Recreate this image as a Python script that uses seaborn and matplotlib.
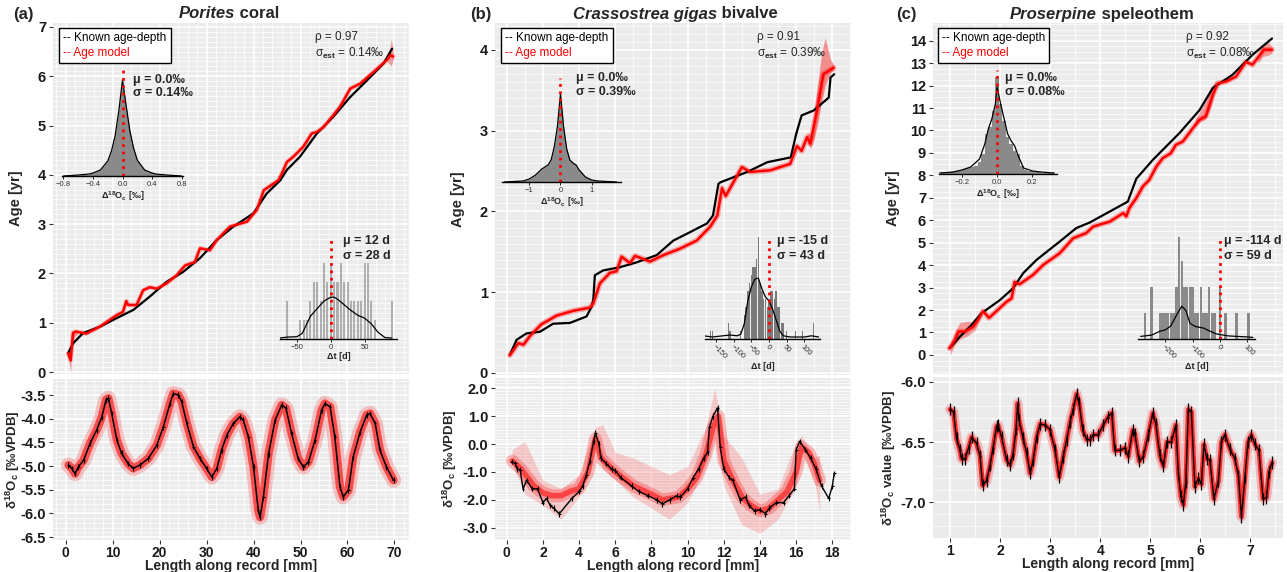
import matplotlib.pyplot as plt
import seaborn as sns
from matplotlib.lines import Line2D
from matplotlib.ticker import MultipleLocator, FormatStrFormatter

sns.set_theme(style="darkgrid")
plt.rcParams['font.family'] = ['Liberation Sans', 'DejaVu Sans']
plt.rcParams['font.weight'] = 'bold'
plt.rcParams['axes.labelweight'] = 'bold'
plt.rcParams['mathtext.fontset'] = 'custom'
plt.rcParams['mathtext.rm'] = 'Liberation Sans'
plt.rcParams['mathtext.it'] = 'Liberation Sans:italic'
plt.rcParams['mathtext.bf'] = 'Liberation Sans:bold'

# ---------------- (a) Porites coral ----------------
a_len = [0.6, 1.3, 2.0, 2.7, 3.8, 5.2, 6.6, 7.7, 8.6, 9.1, 9.8, 10.9, 11.9, 13.3, 14.4, 15.8, 17.6, 19.4, 20.8,
         22.2, 22.9, 24.0, 24.7, 25.8, 27.2, 28.6, 30.0, 31.1, 32.2, 33.2, 34.3, 35.7, 37.1, 37.8, 38.9, 40.0,
         41.0, 41.4, 42.1, 43.2, 44.6, 46.0, 46.9, 48.1, 49.5, 50.6, 51.7, 53.1, 54.5, 55.2, 56.3, 57.3, 58.4,
         59.1, 60.2, 61.2, 62.7, 64.1, 64.8, 65.9, 66.9, 68.3, 69.8]
a_d18o = [-4.98, -5.05, -5.16, -5.02, -4.88, -4.52, -4.24, -3.96, -3.60, -3.57, -3.89, -4.45, -4.73, -4.95,
          -5.05, -4.98, -4.84, -4.56, -4.17, -3.68, -3.47, -3.50, -3.64, -4.10, -4.59, -4.84, -5.05, -5.23,
          -5.05, -4.66, -4.35, -4.10, -3.96, -4.03, -4.38, -5.02, -5.93, -6.08, -5.65, -4.74, -4.03, -3.71,
          -3.78, -4.31, -4.84, -5.02, -4.91, -4.45, -3.82, -3.68, -3.75, -4.38, -5.44, -5.65, -5.51, -4.81,
          -4.28, -3.92, -3.89, -4.10, -4.66, -5.02, -5.30]
a_depth = [0.5, 1.56, 3.7, 7.3, 10.8, 14.4, 17.9, 21.5, 25.0, 28.6, 32.2, 35.7, 40.0, 42.8, 45.7, 47.1, 49.9,
           53.5, 57.0, 60.6, 64.2, 67.7, 69.5]
a_age = [0.38, 0.58, 0.79, 0.92, 1.09, 1.26, 1.53, 1.83, 2.03, 2.31, 2.68, 2.95, 3.22, 3.62, 3.89, 4.10, 4.37,
         4.84, 5.18, 5.58, 5.92, 6.26, 6.56]
a_model_x = [0.5, 1.07, 1.56, 2.13, 4.4, 7.25, 10.8, 12.2, 12.9, 13.3, 15.1, 16.5, 17.9, 19.4, 21.5, 23.6, 25.4,
             27.5, 28.6, 30.7, 32.2, 35.0, 38.6, 40.7, 42.2, 45.3, 46.0, 47.1, 48.5, 50.6, 52.4, 53.5, 54.9,
             57.0, 58.4, 60.6, 62.7, 65.6, 68.4, 69.1, 69.7]
a_model_age = [0.38, 0.24, 0.79, 0.82, 0.78, 0.92, 1.15, 1.22, 1.44, 1.36, 1.36, 1.66, 1.72, 1.69, 1.80, 1.96,
               2.16, 2.23, 2.51, 2.47, 2.68, 2.95, 3.05, 3.29, 3.69, 3.89, 4.02, 4.26, 4.37, 4.57, 4.84, 4.87,
               4.97, 5.21, 5.38, 5.75, 5.85, 6.09, 6.33, 6.43, 6.40]
a_band1_x = [0.5, 0.8, 1.07, 1.3, 1.8, 2.5]
a_band1_lo = [0.30, 0.15, 0.0, 0.45, 0.70, 0.76]
a_band1_hi = [0.42, 0.45, 0.45, 0.84, 0.86, 0.84]
a_band2_x = [68.6, 69.0, 69.3, 69.6, 69.8]
a_band2_lo = [6.28, 6.25, 6.20, 6.30, 6.35]
a_band2_hi = [6.40, 6.55, 6.75, 6.60, 6.48]
a_res_x = [-0.8, -0.6, -0.45, -0.4, -0.3, -0.2, -0.15, -0.1, -0.05, 0.0, 0.05, 0.1, 0.15, 0.2, 0.3, 0.4, 0.45,
           0.6, 0.8]
a_res_dens = [0, 1, 2, 3, 6, 15, 25, 40, 65, 96, 70, 45, 28, 16, 6, 3, 2, 1, 0]
a_dt_bins = [-65, -45, -40, -35, -30, -25, -20, -15, -10, -5, 0, 5, 10, 15, 20, 25, 30, 35, 40, 45, 50, 55, 60,
             65, 90]
a_dt_counts = [2, 1, 1, 1, 2, 3, 3, 2, 4, 3, 4, 3, 3, 4, 3, 3, 2, 2, 2, 2, 4, 4, 2, 1, 2]
a_dt_kx = [-75, -65, -50, -42, -38, -30, -20, -10, 0, 5, 10, 20, 30, 40, 50, 60, 70, 80, 90]
a_dt_kd = [0.05, 0.1, 0.12, 0.3, 0.6, 1.2, 1.6, 2.0, 2.2, 2.2, 2.1, 1.8, 1.5, 1.25, 1.1, 0.8, 0.35, 0.08, 0.05]

# ---------------- (b) Crassostrea gigas bivalve ----------------
b_len = [0.28, 0.46, 0.59, 0.74, 0.9, 1.1, 1.4, 1.7, 2.0, 2.2, 2.4, 2.6, 2.9, 3.6, 4.0, 4.2, 4.4, 4.6, 4.8, 4.9,
         5.1, 5.2, 5.5, 5.8, 6.0, 6.3, 6.9, 7.3, 7.8, 8.3, 8.6, 9.0, 9.4, 9.6, 10.0, 10.3, 10.6, 10.9, 11.1,
         11.2, 11.4, 11.65, 11.8, 12.0, 12.3, 12.5, 12.9, 13.2, 13.4, 13.7, 14.0, 14.3, 14.5, 14.9, 15.3, 15.6,
         15.9, 16.0, 16.2, 16.5, 16.8, 17.1, 17.4, 17.8, 18.0, 18.1]
b_d18o = [-0.63, -0.69, -0.90, -0.93, -1.6, -1.3, -1.6, -1.6, -2.1, -1.95, -2.2, -2.3, -2.5, -1.95, -1.7, -1.5,
          -1.1, -0.6, 0.1, 0.4, 0.0, -0.5, -0.7, -0.9, -0.95, -1.2, -1.5, -1.7, -1.85, -2.0, -2.15, -2.0, -1.85,
          -1.9, -1.6, -1.2, -0.9, -0.5, -0.3, 0.6, 1.0, 1.3, -0.1, -0.9, -1.2, -1.3, -2.0, -1.9, -2.2, -2.4,
          -2.35, -2.5, -2.3, -2.1, -2.1, -1.85, -1.6, -0.2, 0.1, -0.2, -0.5, -0.9, -1.5, -1.95, -1.5, -1.05]
b_mod_x = [0.3, 0.8, 1.5, 2.0, 2.5, 3.0, 3.5, 4.0, 4.5, 4.9, 5.2, 6.0, 7.0, 8.0, 8.6, 9.5, 10.0, 10.5, 11.0,
           11.4, 11.7, 12.0, 12.5, 13.0, 13.5, 14.0, 14.5, 15.0, 15.5, 16.0, 16.3, 16.7, 17.0, 17.3]
b_mod_y = [-0.6, -0.9, -1.5, -1.75, -1.85, -1.85, -1.7, -1.6, -1.0, 0.2, -0.5, -1.0, -1.5, -1.8, -2.0, -1.9,
           -1.6, -1.2, -0.4, 0.6, 1.0, -0.6, -1.3, -1.9, -2.2, -2.4, -2.3, -2.0, -1.7, -1.0, -0.1, -0.3, -0.7,
           -1.3]
b_env_x = [0.3, 1.0, 2.0, 3.0, 4.0, 4.9, 5.3, 6.0, 7.0, 8.0, 9.0, 10.0, 11.0, 11.5, 12.0, 13.0, 14.0, 15.0, 16.0,
           16.3, 17.0, 17.3]
b_env_lo = [-0.7, -1.8, -2.2, -2.7, -1.9, 0.0, -0.9, -1.3, -1.9, -2.3, -2.7, -2.1, -0.8, 0.2, -1.5, -2.9, -3.2,
            -2.7, -1.5, -0.3, -1.3, -2.4]
b_env_hi = [-0.2, 0.1, -1.3, -1.6, -1.1, 0.6, 0.7, -0.3, -0.5, -0.8, -1.1, -0.8, 0.6, 2.0, 0.3, -0.5, -1.8,
            -1.6, 0.1, 0.3, -0.5, -0.4]
b_depth = [0.17, 0.54, 1.09, 1.83, 2.56, 3.49, 4.41, 4.69, 4.78, 4.87, 5.33, 6.26, 7.18, 8.29, 9.21, 10.1, 10.7,
           11.06, 11.4, 11.7, 11.8, 13.3, 14.4, 15.7, 16.0, 16.3, 16.96, 17.8, 17.9, 18.1]
b_age = [0.22, 0.41, 0.49, 0.51, 0.61, 0.62, 0.70, 0.82, 0.90, 1.21, 1.27, 1.31, 1.37, 1.46, 1.64, 1.74, 1.81,
         1.85, 1.95, 2.34, 2.36, 2.49, 2.61, 2.67, 2.96, 3.19, 3.25, 3.41, 3.66, 3.70]
b_model_x = [0.17, 0.64, 0.92, 1.29, 1.9, 2.75, 3.67, 4.6, 4.78, 5.15, 5.7, 6.07, 6.35, 6.81, 7.09, 7.92, 8.66,
             9.58, 10.5, 11.24, 11.64, 11.9, 12.1, 13.0, 13.45, 14.56, 15.67, 16.04, 16.3, 16.6, 16.78, 17.15,
             17.5, 18.07]
b_model_age = [0.22, 0.37, 0.35, 0.46, 0.60, 0.71, 0.77, 0.81, 0.86, 1.11, 1.24, 1.26, 1.44, 1.36, 1.45, 1.38,
               1.46, 1.54, 1.64, 1.81, 1.95, 2.29, 2.19, 2.55, 2.49, 2.51, 2.59, 2.81, 2.75, 2.92, 2.84, 3.25,
               3.70, 3.78]
b_band_x = [16.6, 16.8, 17.0, 17.2, 17.4, 17.6, 17.9, 18.07]
b_band_lo = [2.86, 2.78, 2.90, 3.10, 3.35, 3.55, 3.72, 3.75]
b_band_hi = [2.98, 2.95, 3.25, 3.60, 3.95, 4.15, 3.88, 3.82]
b_res_x = [-1.8, -1.5, -1.2, -1.0, -0.8, -0.6, -0.4, -0.3, -0.2, -0.1, 0.0, 0.1, 0.2, 0.3, 0.4, 0.5, 0.6, 0.8,
           1.0, 1.2, 1.5, 1.8]
b_res_dens = [0, 0.5, 1, 3, 7, 13, 17, 22, 35, 55, 88, 55, 33, 22, 19, 17, 12, 5, 2, 1, 0.5, 0]
b_dt_bins = [-165, -160, -115, -110, -80, -70, -65, -60, -55, -50, -45, -40, -35, -30, -25, -20, -15, -10, -5, 0,
             5, 10, 15, 20, 25, 30, 35, 40, 50, 75, 95, 125]
b_dt_counts = [1, 1, 2, 1, 1, 3, 4, 6, 7, 8, 9, 9, 10, 13, 7, 6, 5, 5, 4, 5, 6, 6, 5, 6, 4, 4, 2, 2, 1, 1, 1, 2]
b_dt_kx = [-185, -160, -130, -110, -90, -80, -70, -60, -50, -40, -30, -20, -10, 0, 10, 20, 30, 40, 60, 80, 100,
           120, 140]
b_dt_kd = [0.4, 0.25, 0.4, 0.5, 0.4, 0.6, 1.9, 4.75, 6.5, 7.5, 7.6, 6.25, 5.25, 4.75, 3.75, 2.4, 1.0, 0.4, 0.25,
           0.25, 0.25, 0.4, 0.25]

# ---------------- (c) Proserpine speleothem ----------------
c_len = [1.0, 1.07, 1.13, 1.2, 1.23, 1.3, 1.37, 1.43, 1.53, 1.6, 1.65, 1.73, 1.8, 1.86, 1.93, 1.96, 2.03, 2.13,
         2.2, 2.26, 2.32, 2.35, 2.38, 2.46, 2.53, 2.6, 2.66, 2.73, 2.8, 2.9, 3.0, 3.1, 3.18, 3.26, 3.33, 3.4,
         3.46, 3.53, 3.58, 3.65, 3.73, 3.8, 3.86, 3.96, 4.06, 4.16, 4.23, 4.29, 4.39, 4.49, 4.56, 4.65, 4.69,
         4.78, 4.86, 4.96, 5.05, 5.11, 5.19, 5.26, 5.33, 5.42, 5.51, 5.56, 5.61, 5.66, 5.71, 5.76, 5.82, 5.89,
         5.96, 6.02, 6.07, 6.13, 6.19, 6.27, 6.36, 6.42, 6.49, 6.59, 6.69, 6.76, 6.82, 6.89, 6.95, 7.02, 7.09,
         7.17, 7.25, 7.32, 7.37, 7.43]
c_d18o = [-6.23, -6.25, -6.47, -6.57, -6.64, -6.64, -6.55, -6.46, -6.51, -6.62, -6.86, -6.82, -6.69, -6.55,
          -6.37, -6.36, -6.46, -6.65, -6.69, -6.60, -6.39, -6.18, -6.32, -6.47, -6.59, -6.76, -6.65, -6.46,
          -6.35, -6.36, -6.40, -6.57, -6.79, -6.62, -6.48, -6.33, -6.23, -6.10, -6.18, -6.40, -6.48, -6.48,
          -6.44, -6.44, -6.36, -6.29, -6.26, -6.57, -6.57, -6.55, -6.62, -6.40, -6.43, -6.66, -6.62, -6.44,
          -6.26, -6.35, -6.61, -6.70, -6.50, -6.50, -6.36, -6.76, -6.95, -7.02, -6.83, -6.23, -6.25, -6.87,
          -6.80, -6.85, -6.52, -6.64, -6.65, -6.97, -6.82, -6.50, -6.44, -6.56, -6.64, -6.78, -7.12, -6.79,
          -6.50, -6.44, -6.52, -6.57, -6.97, -6.96, -6.75, -6.67]
c_depth = [0.99, 1.2, 1.4, 1.63, 2.0, 2.26, 2.46, 2.73, 3.19, 3.52, 3.79, 4.19, 4.55, 4.72, 5.05, 5.58, 5.98,
           6.25, 6.64, 7.04, 7.43]
c_age = [0.3, 0.82, 1.26, 1.86, 2.45, 2.97, 3.64, 4.24, 5.05, 5.65, 5.9, 6.39, 6.83, 7.85, 8.69, 9.88, 10.9,
         11.9, 12.48, 13.37, 14.1]
c_model_x = [0.99, 1.1, 1.17, 1.3, 1.46, 1.6, 1.66, 1.78, 1.95, 2.13, 2.23, 2.29, 2.39, 2.66, 2.86, 3.19, 3.46,
             3.72, 3.86, 4.19, 4.46, 4.52, 4.58, 4.72, 4.85, 4.98, 5.12, 5.25, 5.41, 5.51, 5.65, 5.85, 5.98, 6.11,
             6.25, 6.35, 6.51, 6.71, 6.91, 7.04, 7.27, 7.43]
c_model_age = [0.3, 0.67, 1.04, 1.04, 1.26, 1.71, 1.95, 1.65, 2.0, 2.37, 2.52, 3.25, 3.15, 3.57, 4.01, 4.53, 5.2,
               5.43, 5.72, 5.94, 6.32, 6.17, 6.54, 6.99, 7.5, 7.8, 8.39, 8.77, 8.99, 9.36, 9.51, 10.1, 10.48,
               10.63, 11.6, 12.1, 12.18, 12.4, 13.06, 12.93, 13.6, 13.6]
c_band1_x = [1.0, 1.1, 1.2, 1.35, 1.5, 1.6]
c_band1_lo = [0.0, 0.45, 0.7, 0.85, 1.1, 1.6]
c_band1_hi = [0.45, 1.05, 1.45, 1.5, 1.45, 1.85]
c_band2_x = [5.9, 6.0, 6.1, 6.2, 6.3]
c_band2_lo = [10.2, 10.4, 10.5, 11.0, 11.8]
c_band2_hi = [10.5, 10.9, 11.3, 11.9, 12.2]
c_band3_x = [7.15, 7.25, 7.35, 7.43]
c_band3_lo = [13.0, 13.3, 13.35, 13.45]
c_band3_hi = [13.4, 13.8, 13.95, 13.75]
c_res_bins = [-0.32, -0.30, -0.28, -0.26, -0.24, -0.22, -0.20, -0.18, -0.16, -0.14, -0.12, -0.10, -0.08, -0.06,
              -0.04, -0.02, 0.00, 0.02, 0.04, 0.06, 0.08, 0.10, 0.12, 0.14, 0.16, 0.18, 0.20, 0.22, 0.24, 0.26,
              0.28, 0.30, 0.32]
c_res_counts = [1.7, 1, 1.7, 2.3, 2.7, 3.3, 4, 5, 6, 6.7, 8.3, 11.7, 20, 40, 47, 63, 97, 70, 53, 37, 30, 23, 20,
                8.3, 4, 3.3, 2.7, 2, 1.7, 1.3, 1, 1.3, 1.7]
c_res_kx = [-0.32, -0.25, -0.2, -0.15, -0.1, -0.07, -0.05, -0.03, -0.01, 0.0, 0.02, 0.04, 0.06, 0.08, 0.1, 0.12,
            0.15, 0.2, 0.25, 0.32]
c_res_kd = [1, 2, 4, 7, 15, 30, 45, 55, 70, 87, 70, 55, 40, 33, 28, 18, 6, 3, 2, 1]
c_dt_bins = [-275, -250, -220, -210, -200, -190, -180, -170, -160, -150, -140, -130, -120, -110, -100, -90, -80,
             -70, -60, -50, -40, -30, -20, 0, 20, 60, 105]
c_dt_counts = [1, 2, 1, 1, 1, 1, 1, 1, 2, 4, 3, 2, 2, 2, 2, 1, 1, 2, 1, 1, 2, 1, 1, 2, 1, 1, 1]
c_dt_kx = [-290, -250, -220, -200, -180, -160, -140, -125, -110, -90, -60, -37, -15, 0, 30, 60, 100, 120]
c_dt_kd = [0.1, 0.15, 0.3, 0.35, 0.5, 0.9, 1.26, 1.1, 0.6, 0.48, 0.42, 0.3, 0.2, 0.17, 0.12, 0.1, 0.08, 0.06]

W, H = 1287, 572
fig = plt.figure(figsize=(W / 100, H / 100), dpi=100, facecolor='white')


def px(l, t, r, b):
    return [l / W, 1 - b / H, (r - l) / W, (b - t) / H]


def panel(rect, xlim, ylim, xmaj, xmin, ymaj, ymin, fmt, xticks=False):
    ax = fig.add_axes(px(*rect))
    ax.set_facecolor('#EBEBEB')
    ax.set_xlim(xlim)
    ax.set_ylim(ylim)
    ax.xaxis.set_major_locator(MultipleLocator(xmaj))
    ax.xaxis.set_minor_locator(MultipleLocator(xmin))
    ax.yaxis.set_major_locator(MultipleLocator(ymaj))
    ax.yaxis.set_minor_locator(MultipleLocator(ymin))
    ax.yaxis.set_major_formatter(FormatStrFormatter(fmt))
    ax.grid(which='major', color='white', lw=1.2)
    ax.grid(which='minor', color='white', lw=0.5)
    ax.set_axisbelow(True)
    for s in ax.spines.values():
        s.set_visible(False)
    ax.tick_params(which='major', length=3, width=0.8, color='#333333', labelsize=10.5,
                   labelcolor='#1a1a1a', pad=2, left=True)
    ax.tick_params(which='minor', length=0)
    ax.tick_params(axis='x', bottom=xticks, labelbottom=xticks, pad=1, labelsize=10)
    return ax


def inset(rect, xlim, ylim, ticks, labels, xlabel, rot=False):
    ax = fig.add_axes(px(*rect))
    ax.patch.set_visible(False)
    ax.grid(False)
    ax.set_xlim(xlim)
    ax.set_ylim(ylim)
    for s in ['top', 'right', 'left']:
        ax.spines[s].set_visible(False)
    ax.spines['bottom'].set_visible(True)
    ax.spines['bottom'].set_color('black')
    ax.spines['bottom'].set_linewidth(1)
    ax.set_yticks([])
    ax.set_xticks(ticks)
    if rot:
        ax.set_xticklabels(labels, rotation=-45, ha='left', va='top', rotation_mode='anchor',
                           fontsize=5.5, fontweight='normal', color='#333333')
    else:
        ax.set_xticklabels(labels, fontsize=5.5, fontweight='normal', color='#333333')
    ax.tick_params(axis='x', length=2, width=0.6, color='black', pad=1.5, bottom=True)
    ax.set_xlabel(xlabel, fontsize=6.5, labelpad=1)
    return ax


def legend_box(ax, anchor):
    leg = ax.legend(handles=[Line2D([], [], lw=0), Line2D([], [], lw=0)],
                    labels=['-- Known age-depth', '-- Age model'], loc='upper left',
                    bbox_to_anchor=anchor, borderaxespad=0, handlelength=0, handletextpad=0,
                    fancybox=False, framealpha=1, facecolor='white', edgecolor='black', borderpad=0.35,
                    labelspacing=0.25, prop={'size': 8.5, 'weight': 'normal'})
    leg.get_frame().set_linewidth(1)
    for t, c in zip(leg.get_texts(), ['black', 'red']):
        t.set_color(c)


def title(ax, tag, x_tag, x_split, y, italic, rest):
    fig.text(x_tag / W, 1 - y / H, tag, fontsize=12, va='center')
    t1 = fig.text(x_split / W, 1 - y / H, italic, fontsize=12, style='italic', ha='right', va='center')
    ax.annotate(rest, xy=(1, 0.5), xycoords=t1, va='center', ha='left', fontsize=12, annotation_clip=False)


def stats(x, y1, y2, t1, t2, size=9, weight='bold'):
    fig.text(x / W, 1 - y1 / H, t1, fontsize=size, fontweight=weight, va='center')
    fig.text(x / W, 1 - y2 / H, t2, fontsize=size, fontweight=weight, va='center')


def bottom_labels(ax, ylab, ycoord):
    ax.set_ylabel(ylab, fontsize=9.5)
    ax.yaxis.set_label_coords(ycoord, 0.5)
    ax.set_xlabel('Length along record [mm]', fontsize=10)
    ax.xaxis.set_label_coords(0.5, -0.118)


d18_lab = 'δ$^{\\mathbf{18}}$O$_{\\mathbf{c}}$'
res_lab = 'Δ$^{\\mathbf{18}}$O$_{\\mathbf{c}}$ [‰]'

# ======== column (a) ========
axa = panel((53, 23, 409, 374), (-2.7, 73.1), (-0.04, 7.08), 10, 2, 1, 0.1, '%d')
axa.plot(a_model_x, a_model_age, color='red', lw=3.2, alpha=0.25)
axa.fill_between(a_band1_x, a_band1_lo, a_band1_hi, color='red', alpha=0.35, lw=0)
axa.fill_between(a_band2_x, a_band2_lo, a_band2_hi, color='red', alpha=0.35, lw=0)
sns.lineplot(x=a_depth, y=a_age, ax=axa, color='black', lw=1.6, sort=False, estimator=None)
sns.lineplot(x=a_model_x, y=a_model_age, ax=axa, color='red', lw=1.8, sort=False, estimator=None)
axa.set_ylabel('Age [yr]', fontsize=10.5)
axa.yaxis.set_label_coords(-0.084, 0.5)
legend_box(axa, (0.017, 0.986))
title(axa, '(a)', 13, 235, 14, 'Porites', ' coral')
fig.text(315 / W, 1 - 37 / H, 'ρ = 0.97', fontsize=8.5, fontweight='normal', va='center')
fig.text(315 / W, 1 - 53 / H, 'σ$_{\\mathrm{est}}$ = 0.14‰', fontsize=8.5, fontweight='normal', va='center')

axa2 = panel((53, 379, 409, 540), (-2.7, 73.1), (-6.563, -3.162), 10, 2, 0.5, 0.1, '%.1f', xticks=True)
axa2.plot(a_len, a_d18o, color='red', lw=11, alpha=0.2, solid_joinstyle='round')
axa2.plot(a_len, a_d18o, color='red', lw=6, alpha=0.6, solid_joinstyle='round')
axa2.errorbar(a_len, a_d18o, xerr=0.25, yerr=0.06, fmt='none', ecolor='black', elinewidth=0.8)
sns.lineplot(x=a_len, y=a_d18o, ax=axa2, color='black', lw=1.1, sort=False, estimator=None)
bottom_labels(axa2, d18_lab + ' [‰VPDB]', -0.088)

ia1 = inset((62, 69, 183, 176), (-0.82, 0.82), (0, 107), [-0.8, -0.4, 0.0, 0.4, 0.8],
            ['−0.8', '−0.4', '0.0', '0.4', '0.8'], res_lab)
ia1.fill_between(a_res_x, 0, a_res_dens, color='#8a8a8a', lw=0)
sns.lineplot(x=a_res_x, y=a_res_dens, ax=ia1, color='black', lw=0.9, sort=False, estimator=None)
ia1.axvline(0, color='red', ls=':', lw=2)
stats(133, 80, 93, 'μ = 0.0‰', 'σ = 0.14‰')

ia2 = inset((280, 237, 397, 339), (-75, 98), (0, 5.37), [-50, 0, 50], ['−50', '0', '50'], 'Δt [d]')
ia2.bar(a_dt_bins, a_dt_counts, width=3, color='#7a7a7a', alpha=0.55, lw=0)
sns.lineplot(x=a_dt_kx, y=a_dt_kd, ax=ia2, color='black', lw=0.9, sort=False, estimator=None)
ia2.axvline(0, color='red', ls=':', lw=2)
stats(343, 241, 256, 'μ = 12 d', 'σ = 28 d')

# ======== column (b) ========
axb = panel((495, 23, 851, 375), (-0.65, 19.03), (-0.025, 4.334), 2, 1, 1, 0.1, '%d')
axb.plot(b_model_x, b_model_age, color='red', lw=4, alpha=0.3)
axb.fill_between(b_band_x, b_band_lo, b_band_hi, color='red', alpha=0.4, lw=0)
sns.lineplot(x=b_depth, y=b_age, ax=axb, color='black', lw=1.6, sort=False, estimator=None)
sns.lineplot(x=b_model_x, y=b_model_age, ax=axb, color='red', lw=1.8, sort=False, estimator=None)
axb.set_ylabel('Age [yr]', fontsize=10.5)
axb.yaxis.set_label_coords(-0.084, 0.5)
legend_box(axb, (0.017, 0.986))
title(axb, '(b)', 470, 717, 14, 'Crassostrea gigas', ' bivalve')
fig.text(757 / W, 1 - 37 / H, 'ρ = 0.91', fontsize=8.5, fontweight='normal', va='center')
fig.text(757 / W, 1 - 53 / H, 'σ$_{\\mathrm{est}}$ = 0.39‰', fontsize=8.5, fontweight='normal', va='center')

axb2 = panel((495, 378, 851, 540), (-0.65, 19.03), (-3.44, 2.37), 2, 1, 1, 0.1, '%.1f', xticks=True)
axb2.fill_between(b_env_x, b_env_lo, b_env_hi, color='red', alpha=0.17, lw=0)
axb2.plot(b_mod_x, b_mod_y, color='red', lw=9, alpha=0.25, solid_joinstyle='round')
axb2.plot(b_mod_x, b_mod_y, color='red', lw=4, alpha=0.55, solid_joinstyle='round')
axb2.errorbar(b_len, b_d18o, xerr=0.08, yerr=0.1, fmt='none', ecolor='black', elinewidth=0.8)
sns.lineplot(x=b_len, y=b_d18o, ax=axb2, color='black', lw=1.0, sort=False, estimator=None)
bottom_labels(axb2, d18_lab + ' [‰VPDB]', -0.1)

ib1 = inset((502, 78, 621, 182), (-1.875, 1.94), (0, 104), [-1, 0, 1], ['−1', '0', '1'], res_lab)
ib1.fill_between(b_res_x, 0, b_res_dens, color='#8a8a8a', lw=0)
sns.lineplot(x=b_res_x, y=b_res_dens, ax=ib1, color='black', lw=0.9, sort=False, estimator=None)
ib1.axvline(0, color='red', ls=':', lw=2)
stats(576, 78, 92, 'μ = 0.0‰', 'σ = 0.39‰')

ib2 = inset((705, 237, 820, 339), (-181, 144), (0, 12.75), [-150, -100, -50, 0, 50, 100],
            ['−150', '−100', '−50', '0', '50', '100'], 'Δt [d]', rot=True)
ib2.bar(b_dt_bins, b_dt_counts, width=4, color='#7a7a7a', lw=0)
sns.lineplot(x=b_dt_kx, y=b_dt_kd, ax=ib2, color='black', lw=0.9, sort=False, estimator=None)
ib2.axvline(0, color='red', ls=':', lw=2)
stats(777, 241, 256, 'μ = -15 d', 'σ = 43 d')

# ======== column (c) ========
axc = panel((933, 23, 1283, 374), (0.66, 7.65), (-0.85, 14.79), 1, 0.5, 1, 0.25, '%d')
axc.plot(c_model_x, c_model_age, color='red', lw=4, alpha=0.3)
axc.fill_between(c_band1_x, c_band1_lo, c_band1_hi, color='red', alpha=0.35, lw=0)
axc.fill_between(c_band2_x, c_band2_lo, c_band2_hi, color='red', alpha=0.35, lw=0)
axc.fill_between(c_band3_x, c_band3_lo, c_band3_hi, color='red', alpha=0.35, lw=0)
sns.lineplot(x=c_depth, y=c_age, ax=axc, color='black', lw=1.6, sort=False, estimator=None)
sns.lineplot(x=c_model_x, y=c_model_age, ax=axc, color='red', lw=1.8, sort=False, estimator=None)
axc.set_ylabel('Age [yr]', fontsize=10.5)
axc.yaxis.set_label_coords(-0.094, 0.5)
legend_box(axc, (0.014, 0.986))
title(axc, '(c)', 896, 1097, 14, 'Proserpine', ' speleothem')
fig.text(1186 / W, 1 - 37 / H, 'ρ = 0.92', fontsize=8.5, fontweight='normal', va='center')
fig.text(1186 / W, 1 - 53 / H, 'σ$_{\\mathrm{est}}$ = 0.08‰', fontsize=8.5, fontweight='normal', va='center')

axc2 = panel((933, 377, 1283, 538), (0.66, 7.65), (-7.296, -5.961), 1, 0.5, 0.5, 0.1, '%.1f', xticks=True)
axc2.plot(c_len, c_d18o, color='red', lw=7, alpha=0.22, solid_joinstyle='round')
axc2.plot(c_len, c_d18o, color='red', lw=3.5, alpha=0.75, solid_joinstyle='round')
axc2.errorbar(c_len, c_d18o, xerr=0.015, yerr=0.05, fmt='none', ecolor='black', elinewidth=0.9)
sns.lineplot(x=c_len, y=c_d18o, ax=axc2, color='black', lw=1.0, sort=False, estimator=None)
bottom_labels(axc2, d18_lab + ' value [‰VPDB]', -0.1)

ic1 = inset((939, 70, 1057, 174), (-0.33, 0.34), (0, 104), [-0.2, 0.0, 0.2], ['−0.2', '0.0', '0.2'], res_lab)
ic1.bar(c_res_bins, c_res_counts, width=0.02, color='#8a8a8a', lw=0)
sns.lineplot(x=c_res_kx, y=c_res_kd, ax=ic1, color='black', lw=0.9, sort=False, estimator=None)
ic1.axvline(0, color='red', ls=':', lw=2)
stats(1005, 78, 92, 'μ = 0.0‰', 'σ = 0.08‰')

ic2 = inset((1138, 237, 1255, 339), (-300, 128), (0, 3.92), [-200, -100, 0, 100],
            ['−200', '−100', '0', '100'], 'Δt [d]', rot=True)
ic2.bar(c_dt_bins, c_dt_counts, width=9, color='#8a8a8a', lw=0)
sns.lineplot(x=c_dt_kx, y=c_dt_kd, ax=ic2, color='black', lw=0.9, sort=False, estimator=None)
ic2.axvline(0, color='red', ls=':', lw=2)
stats(1224, 241, 256, 'μ = -114 d', 'σ = 59 d')

fig.savefig('out.png', dpi=100, facecolor='white')
